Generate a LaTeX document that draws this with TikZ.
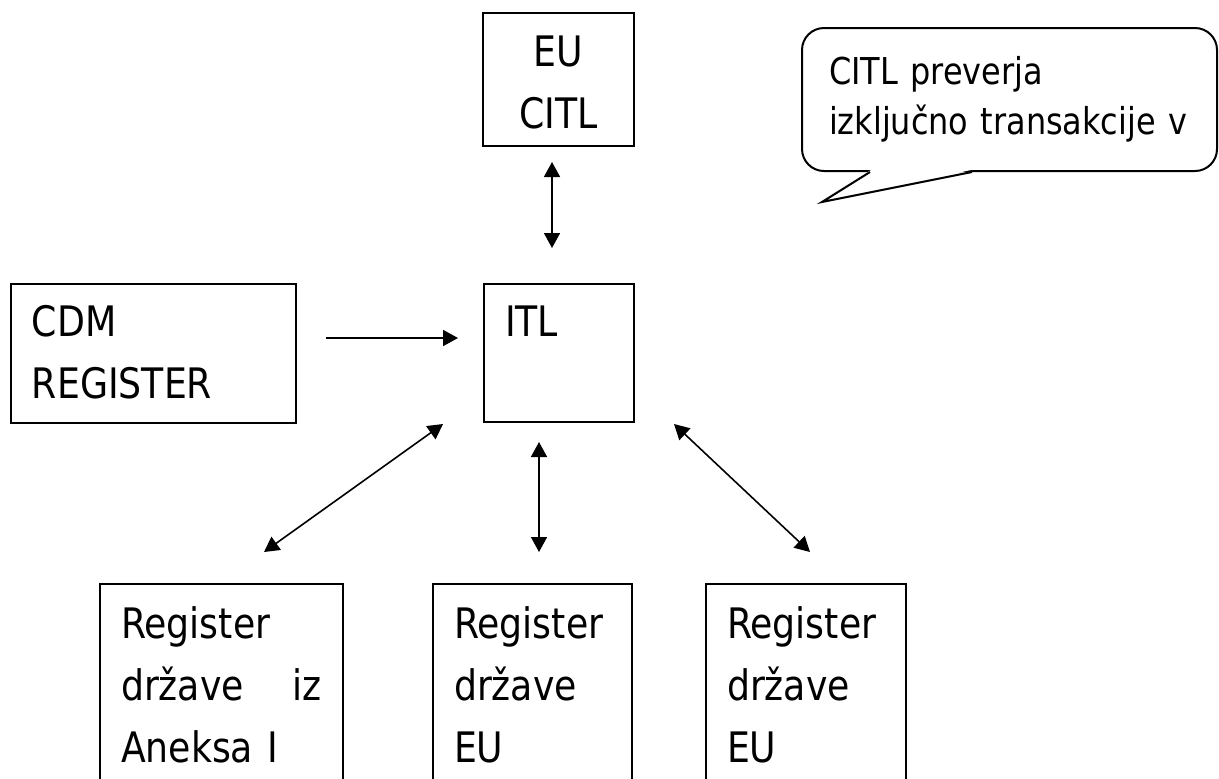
\documentclass[tikz,border=0pt]{standalone}
\usepackage{fontspec}
\setmainfont{DejaVu Sans}[FakeStretch=0.863]
\usepackage{tikz}
\usetikzlibrary{arrows.meta, calc}
\newcommand\boxfont{\fontsize{21pt}{31pt}\selectfont}
\newcommand\notefont{\fontsize{18.5pt}{25pt}\selectfont}
\tikzset{
  regbox/.style={draw, line width=1pt, anchor=north west, inner xsep=10.5pt, inner ysep=0pt,
    align=left, font=\boxfont},
  link/.style={line width=0.8pt, {Triangle[length=7.5pt,width=8pt]}-{Triangle[length=7.5pt,width=8pt]}},
  onelink/.style={line width=0.8pt, -{Triangle[length=7.5pt,width=8pt]}}
}

\begin{document}
\begin{tikzpicture}[x=0.5pt, y=-0.5pt]
        \useasboundingbox (0,0) rectangle (1219,778);
        \clip (0,0) rectangle (1219,778);

        % EU CITL Box
        \node[regbox, align=center, text width=54.5pt, text height=26.5pt, text depth=40pt] (citl) at (482,12) {EU\\CITL};

        % CDM Box
        \node[regbox, text width=121.5pt, text height=26pt, text depth=43.5pt] (cdm) at (10,283) {CDM\\REGISTER};

        % ITL Box
        \node[regbox, text width=54pt, text height=26pt, text depth=43pt] (itl) at (483,283) {ITL};

        % Registry Boxes
        \node[regbox, text width=100.5pt, text height=27pt, text depth=81.5pt] (reg1) at (99,583) {Register\\države\hfill iz\\Aneksa I};
        \node[regbox, text width=78.5pt, text height=27pt, text depth=81.5pt] (reg2) at (432,583) {Register\\države\\EU};
        \node[regbox, text width=79pt, text height=27pt, text depth=81.5pt] (reg3) at (705,583) {Register\\države\\EU};

        % Callout
        \node[draw, line width=1pt, rounded corners=11pt, anchor=north west, inner xsep=13.5pt, inner ysep=0pt,
              text width=180.5pt, align=left, font=\notefont, text height=28pt, text depth=43.5pt] (note) at (801,27)
              {CITL preverja\\\mbox{izključno transakcije v}};
        \coordinate (tip) at ($(note.south west)+(21,30)$);
        \fill[white] ($(note.south west)+(70,-2)$) -- (tip) -- ($(note.south west)+(170,-2)$) -- cycle;
        \draw[line width=1pt, line join=miter] ($(note.south west)+(69,0)$) -- (tip) -- ($(note.south west)+(171,0)$);

        % Arrows
        \draw[link] ($(citl.south)+(-6.5,15)$) -- ($(itl.north)+(-7,-35)$);
        \draw[onelink] ($(cdm.east)+(29,-15.5)$) -- ($(itl.west)+(-25,-15)$);
        \draw[link] ($(itl.south west)+(-40,1)$) -- ($(reg1.north east)+(-80,-31)$);
        \draw[link] ($(itl.south)+(-20,19)$) -- ($(reg2.north)+(6.5,-31)$);
        \draw[link] ($(itl.south east)+(39,1)$) -- ($(reg3.north west)+(105,-31)$);
    \end{tikzpicture}
\end{document}
